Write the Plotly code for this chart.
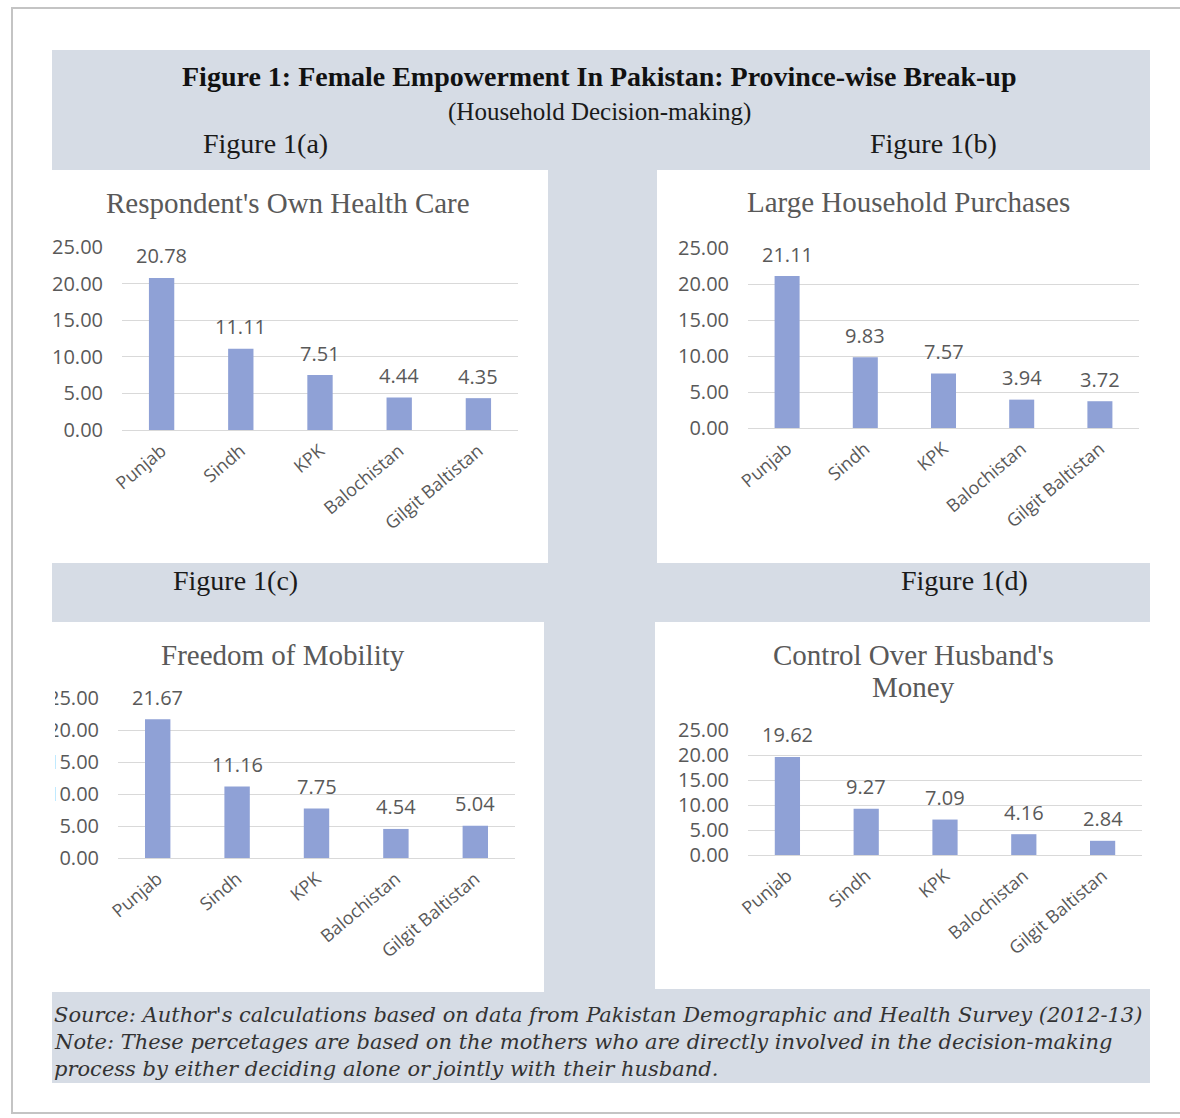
import plotly.graph_objects as go

# Province-wise household decision-making shares (%)
provinces = ["Punjab", "Sindh", "KPK", "Balochistan", "Gilgit Baltistan"]
health_care = [20.78, 11.11, 7.51, 4.44, 4.35]
household_purchases = [21.11, 9.83, 7.57, 3.94, 3.72]
mobility = [21.67, 11.16, 7.75, 4.54, 5.04]
husband_money = [19.62, 9.27, 7.09, 4.16, 2.84]

y_ticks = [0, 5, 10, 15, 20, 25]

main_title = "Figure 1: Female Empowerment In Pakistan: Province-wise Break-up"
sub_title = "(Household Decision-making)"
panel_labels = ["Figure 1(a)", "Figure 1(b)", "Figure 1(c)", "Figure 1(d)"]
chart_titles = [["Respondent's Own Health Care"], ["Large Household Purchases"],
                ["Freedom of Mobility"], ["Control Over Husband's", "Money"]]
source_lines = [
    "Source: Author's calculations based on data from Pakistan Demographic and Health Survey (2012-13)",
    "Note: These percetages are based on the mothers who are directly involved in the decision-making",
    "process by either deciding alone or jointly with their husband.",
]

W, H = 1180, 1118
BAR = "#8FA1D6"
GRID = "#D9D9D9"
TXT = "#595959"
PANEL = "#D6DCE5"


def fx(x):
    return x / W


def fy(y):
    return 1 - y / H


# pixel layout of each small chart: plot box, white card, title, heading
charts = [
    dict(vals=health_care, plot=(122, 518, 247, 430), card=(52, 548, 170, 563),
         title_xy=(288, 203), head_xy=(265, 143)),
    dict(vals=household_purchases, plot=(748, 1139, 248, 428), card=(657, 1150, 170, 563),
         title_xy=(908, 202), head_xy=(933, 143)),
    dict(vals=mobility, plot=(118, 515, 698, 858), card=(52, 544, 622, 992),
         title_xy=(283, 655), head_xy=(235, 580)),
    dict(vals=husband_money, plot=(748, 1142, 730, 855), card=(655, 1150, 622, 989),
         title_xy=(913, 655), head_xy=(964, 580)),
]

fig = go.Figure()
shapes = []
annotations = []

# page frame and blue-grey backdrop
shapes.append(dict(type="rect", xref="paper", yref="paper", layer="below",
                   x0=fx(12), x1=fx(1200), y0=fy(1113), y1=fy(8),
                   line=dict(color="#C4C4C4", width=2), fillcolor="white"))
shapes.append(dict(type="rect", xref="paper", yref="paper", layer="below",
                   x0=fx(52), x1=fx(1150), y0=fy(1083), y1=fy(50),
                   line=dict(width=0), fillcolor=PANEL))

layout_axes = {}
for i, ch in enumerate(charts):
    n = "" if i == 0 else str(i + 1)
    x0, x1, y0, y1 = ch["plot"]
    cx0, cx1, cy0, cy1 = ch["card"]
    shapes.append(dict(type="rect", xref="paper", yref="paper", layer="below",
                       x0=fx(cx0), x1=fx(cx1), y0=fy(cy1), y1=fy(cy0),
                       line=dict(width=0), fillcolor="white"))

    fig.add_trace(go.Bar(x=provinces, y=ch["vals"], marker=dict(color=BAR, line=dict(width=0)),
                         width=0.32, xaxis="x" + n, yaxis="y" + n, showlegend=False,
                         hoverinfo="x+y"))

    layout_axes["xaxis" + n] = dict(domain=[fx(x0), fx(x1)], anchor="y" + n,
                                    type="category", tickangle=-40, showgrid=False,
                                    showline=False, zeroline=False, ticks="",
                                    ticklabelstandoff=6, automargin=False,
                                    tickfont=dict(family="Open Sans", size=18, color=TXT),
                                    fixedrange=True)
    layout_axes["yaxis" + n] = dict(domain=[fy(y1), fy(y0)], anchor="x" + n,
                                    range=[0, 25], tickvals=y_ticks, tickformat=".2f",
                                    showgrid=True, gridcolor=GRID, gridwidth=1,
                                    zeroline=True, zerolinecolor=GRID, zerolinewidth=1,
                                    showline=False, ticks="", ticklabelstandoff=18,
                                    automargin=False,
                                    tickfont=dict(family="Open Sans", size=20, color=TXT),
                                    fixedrange=True)

    # value labels above bars
    for p, v in zip(provinces, ch["vals"]):
        annotations.append(dict(x=p, y=v, xref="x" + n, yref="y" + n, text=f"{v:.2f}",
                                showarrow=False, yanchor="middle", yshift=22,
                                font=dict(family="Open Sans", size=20, color=TXT)))

    tx, ty = ch["title_xy"]
    for k, tline in enumerate(chart_titles[i]):
        annotations.append(dict(x=fx(tx), y=fy(ty + 32 * k), xref="paper", yref="paper",
                                text=tline, showarrow=False, xanchor="center",
                                yanchor="middle",
                                font=dict(family="Liberation Serif", size=29, color=TXT)))
    hx, hy = ch["head_xy"]
    annotations.append(dict(x=fx(hx), y=fy(hy), xref="paper", yref="paper",
                            text=panel_labels[i], showarrow=False, xanchor="center",
                            yanchor="middle",
                            font=dict(family="Liberation Serif", size=28, color="#1a1a1a")))

# tick labels of the lower-left chart run past the left edge of the page
shapes.append(dict(type="rect", xref="paper", yref="paper", layer="above",
                   x0=fx(13), x1=fx(55), y0=fy(875), y1=fy(680),
                   line=dict(width=0), fillcolor="white"))

annotations.append(dict(x=fx(599), y=fy(77), xref="paper", yref="paper",
                        text="<b>" + main_title + "</b>", showarrow=False,
                        xanchor="center", yanchor="middle",
                        font=dict(family="Liberation Serif", size=28, color="#111111")))
annotations.append(dict(x=fx(599), y=fy(112), xref="paper", yref="paper",
                        text=sub_title, showarrow=False, xanchor="center", yanchor="middle",
                        font=dict(family="Liberation Serif", size=25, color="#1a1a1a")))

for k, line in enumerate(source_lines):
    annotations.append(dict(x=fx(52), y=fy(1015 + 27 * k), xref="paper", yref="paper",
                            text="<i>" + line + "</i>", showarrow=False,
                            xanchor="left", yanchor="middle",
                            font=dict(family="DejaVu Serif", size=21, color="#333333")))

fig.update_layout(width=W, height=H,
                  margin=dict(l=0, r=0, t=0, b=0, pad=0, autoexpand=False),
                  paper_bgcolor="white", plot_bgcolor="rgba(0,0,0,0)",
                  shapes=shapes, annotations=annotations, bargap=0.6,
                  **layout_axes)

fig.write_html("out.html")
